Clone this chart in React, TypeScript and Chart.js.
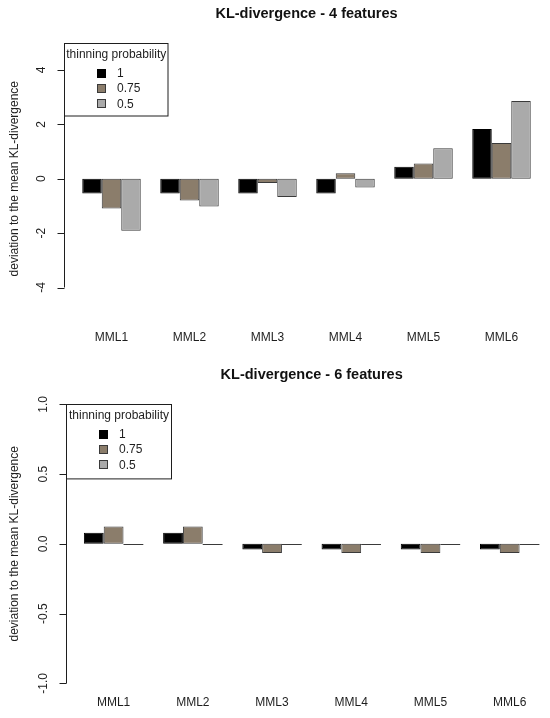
import React, { useEffect, useRef } from "react";
import { Chart, registerables } from "chart.js";

Chart.register(...registerables);

// ---------- data ----------
const categories = ["MML1", "MML2", "MML3", "MML4", "MML5", "MML6"];
const seriesLabels = ["1", "0.75", "0.5"];
const seriesColors = ["#000000", "#8b7d6b", "#aaaaaa"];
const seriesBorders = ["#000000", "#3a3a3a", "#3a3a3a"];

const top_p1 = [-0.54, -0.54, -0.54, -0.54, 0.44, 1.83];
const top_p075 = [-1.1, -0.8, -0.16, 0.2, 0.56, 1.31];
const top_p05 = [-1.91, -1.02, -0.67, -0.32, 1.12, 2.86];

const bottom_p1 = [0.08, 0.08, -0.04, -0.04, -0.04, -0.04];
const bottom_p075 = [0.125, 0.125, -0.065, -0.065, -0.065, -0.065];
const bottom_p05 = [0, 0, 0, 0, 0, 0];

const topTicks = [-4, -2, 0, 2, 4];
const topTickLabels = ["-4", "-2", "0", "2", "4"];
const bottomTicks = [-1, -0.5, 0, 0.5, 1];
const bottomTickLabels = ["-1.0", "-0.5", "0.0", "0.5", "1.0"];

const topTitle = "KL-divergence - 4 features";
const bottomTitle = "KL-divergence - 6 features";
const yTitle = "deviation to the mean KL-divergence";
const legendTitle = "thinning probability";

const FONT = '"Liberation Sans", Arial, Helvetica, sans-serif';
const INK = "#1e1e1e";

type PanelProps = {
  title: string;
  series: number[][];
  ticks: number[];
  tickLabels: string[];
  yMin: number;
  yMax: number;
  padLeft: number;
  padRight: number;
  titlePadTop: number;
  titlePadBottom: number;
  xLabelPad: number;
  xAxisHeight: number;
  padBottom: number;
  axisGap: number;
  legendW: number;
  legendH: number;
};

function makePlugin(p: PanelProps) {
  return {
    id: "rStyle",
    afterDatasetsDraw(chart: any) {
      const ctx = chart.ctx;
      ctx.save();
      chart.data.datasets.forEach((ds: any, di: number) => {
        const meta = chart.getDatasetMeta(di);
        meta.data.forEach((el: any, i: number) => {
          if (ds.data[i] === 0) {
            const { x, y, width } = el.getProps(["x", "y", "width"], true);
            ctx.strokeStyle = seriesBorders[di];
            ctx.lineWidth = 1;
            ctx.beginPath();
            const yy = Math.round(y) + 0.5;
            ctx.moveTo(x - width / 2, yy);
            ctx.lineTo(x + width / 2, yy);
            ctx.stroke();
          }
        });
      });
      ctx.restore();
    },
    afterDraw(chart: any) {
      const ctx = chart.ctx;
      const ys = chart.scales.y;
      const area = chart.chartArea;
      const axisX = Math.round(area.left - p.axisGap) + 0.5;
      const pix = p.ticks.map((t) => ys.getPixelForValue(t));
      ctx.save();
      // axis line
      ctx.strokeStyle = INK;
      ctx.lineWidth = 1;
      ctx.beginPath();
      ctx.moveTo(axisX, Math.min(...pix));
      ctx.lineTo(axisX, Math.max(...pix));
      ctx.stroke();
      // ticks + labels
      ctx.fillStyle = INK;
      ctx.font = `12px ${FONT}`;
      ctx.textAlign = "center";
      ctx.textBaseline = "middle";
      pix.forEach((py, i) => {
        const yy = Math.round(py) + 0.5;
        ctx.beginPath();
        ctx.moveTo(axisX, yy);
        ctx.lineTo(axisX - 7, yy);
        ctx.stroke();
        ctx.save();
        ctx.translate(axisX - 22.5, py);
        ctx.rotate(-Math.PI / 2);
        ctx.fillText(p.tickLabels[i], 0, 0);
        ctx.restore();
      });
      // y title
      ctx.save();
      ctx.translate(15, (Math.min(...pix) + Math.max(...pix)) / 2);
      ctx.rotate(-Math.PI / 2);
      ctx.fillText(yTitle, 0, 0);
      ctx.restore();
      // legend
      const lx = axisX;
      const ly = Math.round(area.top) + 0.5;
      ctx.fillStyle = "#ffffff";
      ctx.fillRect(lx, ly, p.legendW, p.legendH);
      ctx.strokeStyle = INK;
      ctx.strokeRect(lx, ly, p.legendW, p.legendH);
      ctx.fillStyle = INK;
      ctx.textAlign = "center";
      ctx.fillText(legendTitle, lx + p.legendW / 2, ly + 11.5);
      ctx.textAlign = "left";
      seriesLabels.forEach((lab, i) => {
        const ry = ly + 29.6 + i * 15.3;
        ctx.fillStyle = seriesColors[i];
        ctx.fillRect(Math.round(lx + 32), Math.round(ry - 4.5), 9, 9);
        ctx.strokeStyle = seriesBorders[i];
        ctx.strokeRect(Math.round(lx + 32) + 0.5, Math.round(ry - 4.5) + 0.5, 8, 8);
        ctx.fillStyle = INK;
        ctx.fillText(lab, lx + 52.5, ry + 0.5);
      });
      ctx.restore();
    },
  };
}

function Panel(p: PanelProps) {
  const ref = useRef<HTMLCanvasElement | null>(null);
  useEffect(() => {
    if (!ref.current) return;
    const chart = new Chart(ref.current, {
      type: "bar",
      data: {
        labels: categories,
        datasets: p.series.map((d, i) => ({
          label: seriesLabels[i],
          data: d,
          backgroundColor: seriesColors[i],
          borderColor: seriesBorders[i],
          borderWidth: 1,
          borderSkipped: false,
          categoryPercentage: 0.75,
          barPercentage: 1,
        })),
      },
      options: {
        animation: false,
        responsive: false,
        devicePixelRatio: 1,
        layout: {
          padding: { left: p.padLeft, right: p.padRight, top: 0, bottom: p.padBottom },
        },
        plugins: {
          legend: { display: false },
          tooltip: { enabled: false },
          title: {
            display: true,
            text: p.title,
            color: "#111",
            font: { family: FONT, size: 14.5, weight: "bold", lineHeight: 1.2 },
            padding: { top: p.titlePadTop, bottom: p.titlePadBottom },
          },
        },
        scales: {
          x: {
            type: "category",
            grid: { display: false, drawTicks: false },
            border: { display: false },
            ticks: {
              color: INK,
              font: { family: FONT, size: 12, lineHeight: 1.2 },
              padding: p.xLabelPad,
              maxRotation: 0,
              autoSkip: false,
            },
            afterFit: (s: any) => {
              s.height = p.xAxisHeight;
            },
          },
          y: {
            display: false,
            min: p.yMin,
            max: p.yMax,
          },
        },
      },
      plugins: [makePlugin(p)],
    } as any);
    return () => chart.destroy();
  }, []);
  return (
    <canvas
      ref={ref}
      width={550}
      height={359}
      style={{ display: "block", width: 550, height: 359 }}
    />
  );
}

export default function App() {
  return (
    <div style={{ position: "absolute", left: 0, top: 0, width: 550, height: 718, background: "#fff" }}>
      <Panel
        title={topTitle}
        series={[top_p1, top_p075, top_p05]}
        ticks={topTicks}
        tickLabels={topTickLabels}
        yMin={-4.5}
        yMax={5}
        padLeft={72.5}
        padRight={9.5}
        titlePadTop={5.3}
        titlePadBottom={20}
        xLabelPad={29}
        xAxisHeight={47}
        padBottom={10.9}
        axisGap={8.2}
        legendW={103.5}
        legendH={72.5}
      />
      <Panel
        title={bottomTitle}
        series={[bottom_p1, bottom_p075, bottom_p05]}
        ticks={bottomTicks}
        tickLabels={bottomTickLabels}
        yMin={-1.08}
        yMax={1}
        padLeft={74}
        padRight={0.7}
        titlePadTop={7.3}
        titlePadBottom={20.6}
        xLabelPad={1.3}
        xAxisHeight={20}
        padBottom={3.5}
        axisGap={8}
        legendW={105}
        legendH={74.4}
      />
    </div>
  );
}
